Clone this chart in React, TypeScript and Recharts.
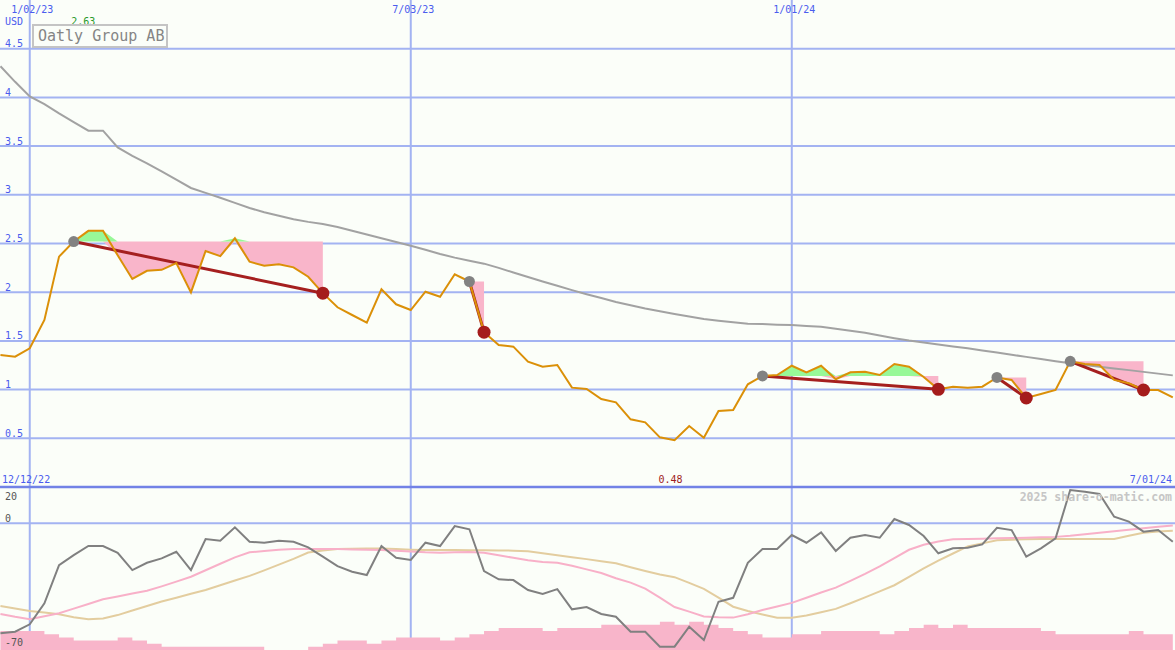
import React from 'react';
import {
  ComposedChart,
  Line,
  Area,
  XAxis,
  YAxis,
  CartesianGrid,
  ReferenceLine,
  ReferenceDot,
} from 'recharts';

// week index, 0 = 1/02/23
const weeks = [
  -2, -1, 0, 1, 2, 3, 4, 5, 6, 7, 8, 9, 10, 11, 12, 13, 14, 15, 16, 17,
  18, 19, 20, 21, 22, 23, 24, 25, 26, 27, 28, 29, 30, 31, 32, 33, 34, 35, 36, 37,
  38, 39, 40, 41, 42, 43, 44, 45, 46, 47, 48, 49, 50, 51, 52, 53, 54, 55, 56, 57,
  58, 59, 60, 61, 62, 63, 64, 65, 66, 67, 68, 69, 70, 71, 72, 73, 74, 75, 76, 77,
  78,
];

// weekly close, USD
const price = [
  1.355, 1.338, 1.424, 1.715, 2.365, 2.52, 2.63, 2.63, 2.38, 2.136,
  2.22, 2.23, 2.3, 1.998, 2.423, 2.37, 2.554, 2.313, 2.272, 2.286,
  2.255, 2.159, 1.99, 1.845, 1.766, 1.687, 2.03, 1.876, 1.817, 2.005,
  1.954, 2.184, 2.11, 1.59, 1.458, 1.441, 1.287, 1.235, 1.253, 1.02,
  1.006, 0.903, 0.869, 0.695, 0.664, 0.51, 0.48, 0.626, 0.506, 0.78,
  0.79, 1.054, 1.14, 1.15, 1.245, 1.177, 1.245, 1.106, 1.177, 1.184,
  1.15, 1.263, 1.235, 1.13, 1.003, 1.03, 1.02, 1.03, 1.125, 1.099,
  0.914, 0.955, 0.996, 1.29, 1.263, 1.253, 1.099, 1.065, 0.996, 0.996,
  0.921,
];

// long moving average
const movingAvg = [
  4.32, 4.16, 4.01, 3.93, 3.836, 3.747, 3.658, 3.658, 3.486, 3.4,
  3.323, 3.24, 3.155, 3.07, 3.02, 2.969, 2.917, 2.864, 2.821, 2.785,
  2.75, 2.722, 2.7, 2.67, 2.631, 2.592, 2.553, 2.515, 2.477, 2.436,
  2.393, 2.355, 2.323, 2.293, 2.25, 2.202, 2.156, 2.11, 2.066, 2.021,
  1.979, 1.94, 1.9, 1.867, 1.833, 1.804, 1.777, 1.751, 1.725, 1.707,
  1.692, 1.676, 1.673, 1.667, 1.663, 1.654, 1.646, 1.625, 1.605, 1.583,
  1.555, 1.528, 1.504, 1.484, 1.464, 1.443, 1.424, 1.402, 1.38, 1.358,
  1.336, 1.314, 1.292, 1.27, 1.253, 1.235, 1.217, 1.2, 1.182, 1.164,
  1.146,
];

// lower panel oscillator
const osc = [
  -99.9, -98.4, -91.7, -72.6, -37.9, -28.8, -20.6, -20.6, -26.7, -42.4,
  -35.8, -31.8, -25.8, -42.4, -14.3, -15.8, -3.6, -16.7, -17.6, -15.8,
  -16.7, -21.8, -30.3, -38.8, -43.9, -46.9, -20.6, -31.2, -33.3, -17.6,
  -20.6, -2.5, -5.4, -43.3, -50.8, -51.5, -60.6, -64.2, -59.7, -78.1,
  -76.0, -82.3, -84.8, -98.4, -98.4, -112, -112, -93.9, -106, -71.2,
  -67.6, -35.8, -23.3, -23.3, -10.6, -17.6, -8.2, -25.1, -13.1, -10.6,
  -13.1, 3.9, -1.5, -11.5, -27.2, -22.7, -22.2, -19.1, -4.0, -6.1,
  -30.3, -22.7, -13.6, 30.2, 28.7, 26.6, 6.0, 1.5, -7.6, -6.1,
  -16.7,
];

const oscFast = [
  -82.4, -84.9, -87.0, -84.3, -81.7, -77.4, -73.3, -69.0, -66.4, -63.8,
  -61.2, -57.2, -52.9, -48.5, -42.6, -36.7, -30.9, -26.3, -25.1, -24.0,
  -23.3, -23.3, -23.3, -23.4, -23.7, -24.0, -24.3, -24.9, -25.5, -26.2,
  -26.6, -26.3, -26.1, -26.7, -29.0, -31.3, -33.6, -35.1, -35.7, -38.5,
  -41.8, -45.1, -49.9, -53.8, -59.3, -67.4, -76.0, -80.2, -84.5, -85.3,
  -85.6, -82.6, -78.7, -75.5, -72.2, -67.6, -62.8, -58.4, -52.3, -45.9,
  -39.1, -31.5, -24.0, -19.4, -16.5, -14.4, -14.2, -13.9, -13.6, -13.3,
  -13.1, -12.7, -12.3, -11.3, -9.9, -8.6, -7.3, -5.9, -4.5, -3.2,
  -2.0,
];

const oscSlow = [
  -75.1, -77.4, -79.6, -80.9, -82.5, -85.2, -87.1, -86.3, -83.3, -79.2,
  -75.1, -71.0, -67.6, -64.0, -60.5, -56.2, -51.9, -47.7, -42.7, -37.5,
  -32.3, -26.5, -24.6, -23.3, -23.1, -22.8, -22.9, -23.4, -23.9, -24.2,
  -24.2, -24.2, -24.4, -24.5, -24.7, -24.8, -25.3, -27.1, -29.0, -30.8,
  -32.5, -34.4, -36.3, -39.8, -43.2, -46.5, -48.9, -54.0, -59.5, -67.4,
  -75.7, -79.6, -82.7, -85.7, -85.7, -83.7, -80.7, -77.7, -72.6, -67.2,
  -61.8, -56.2, -48.6, -41.0, -33.8, -27.4, -21.0, -18.2, -15.3, -14.8,
  -14.4, -14.3, -14.3, -14.3, -14.3, -14.3, -14.3, -11.3, -8.5, -7.4,
  -6.8,
];

// volume-like histogram (levels)
const hist = [
  6, 6, 6, 5, 4, 3, 3, 3, 4, 3,
  2, 1, 1, 1, 1, 1, 1, 1, 0, 0,
  0, 1, 2, 3, 3, 2, 3, 4, 4, 4,
  3, 4, 5, 6, 7, 7, 7, 6, 7, 7,
  7, 8, 8, 8, 8, 9, 8, 9, 8, 7,
  6, 5, 4, 4, 5, 5, 6, 6, 6, 6,
  5, 6, 7, 8, 7, 8, 7, 7, 7, 7,
  7, 6, 5, 5, 5, 5, 5, 6, 5, 5,
  5,
];

// buy/sell signal windows (week of start, week of end)
const signals = [
  { start: 3, end: 20 },
  { start: 30, end: 31 },
  { start: 50, end: 62 },
  { start: 66, end: 68 },
  { start: 71, end: 76 },
];

const dateTicks = [0, 26, 52];
const dateLabels = ['1/02/23', '7/03/23', '1/01/24'];
const priceTicks = [0.5, 1, 1.5, 2, 2.5, 3, 3.5, 4, 4.5];
const oscTicks = [20, 0];

const BG = '#fbfef9';
const GRID = '#a3b3f2';
const BLUE = '#4a5cee';
const MONO = '"DejaVu Sans Mono", monospace';

const rows = weeks.map((k, i) => {
  const p = price[i];
  const row: any = {
    k,
    price: p,
    ma: movingAvg[i],
    osc: osc[i],
    oscFast: oscFast[i],
    oscSlow: oscSlow[i],
    hist: hist[i],
    startDot: null,
    endDot: null,
  };
  signals.forEach((s, j) => {
    if (k >= s.start && k <= s.end) {
      const level = price[weeks.indexOf(s.start)];
      row.pink = [Math.min(p, level), level];
      row.green = [level, Math.max(p, level)];
    }
    row['t' + j] = k === s.start || k === s.end ? p : null;
    if (k === s.start) row.startDot = p;
    if (k === s.end) row.endDot = p;
  });
  return row;
});

const maxIdx = price.indexOf(Math.max(...price));
const minIdx = price.indexOf(Math.min(...price));

const DateTick = ({ x, payload }: any) => (
  <text x={x + 2.5} y={13} textAnchor="middle" fill={BLUE} fontSize={10} fontFamily={MONO}>
    {dateLabels[dateTicks.indexOf(payload.value)]}
  </text>
);

const PriceTick = ({ y, payload }: any) => (
  <text x={5} y={y - 1.5} fill={BLUE} fontSize={10} fontFamily={MONO}>
    {payload.value}
  </text>
);

const OscTick = ({ y, payload }: any) => (
  <text x={5} y={y - 1.5} fill="#555" fontSize={10} fontFamily={MONO}>
    {payload.value}
  </text>
);

export default function App() {
  return (
    <div style={{ position: 'absolute', left: 0, top: 0, width: 1175, height: 650, background: BG, overflow: 'hidden' }}>
      <ComposedChart width={1175} height={650} data={rows} margin={{ top: -1, right: 0, bottom: 0, left: -2 }}>
        <CartesianGrid yAxisId="p" stroke={GRID} strokeWidth={2} syncWithTicks />
        <XAxis
          dataKey="k"
          type="number"
          domain={[-2.03, 78.15]}
          allowDataOverflow
          ticks={dateTicks}
          interval={0}
          orientation="top"
          height={1}
          axisLine={false}
          tickLine={false}
          tick={DateTick}
        />
        <YAxis
          yAxisId="p"
          type="number"
          domain={[-1.6735, 5]}
          allowDataOverflow
          ticks={priceTicks}
          interval={0}
          width={1}
          axisLine={false}
          tickLine={false}
          tick={PriceTick}
        />
        <YAxis
          yAxisId="v"
          type="number"
          domain={[-115, 475.1]}
          allowDataOverflow
          ticks={oscTicks}
          interval={0}
          width={1}
          axisLine={false}
          tickLine={false}
          tick={OscTick}
        />
        <YAxis yAxisId="h" type="number" domain={[0, 206.35]} allowDataOverflow hide />

        <ReferenceLine yAxisId="v" y={0} stroke={GRID} strokeWidth={2} />
        <ReferenceLine yAxisId="p" y={0} stroke="#7282e6" strokeWidth={2.5} />

        <Area yAxisId="h" type="stepAfter" dataKey="hist" fill="#f8b5ca" fillOpacity={1} stroke="none" activeDot={false} isAnimationActive={false} />
        <Area yAxisId="p" type="linear" dataKey="pink" fill="#f9b5ca" fillOpacity={1} stroke="none" activeDot={false} isAnimationActive={false} />
        <Area yAxisId="p" type="linear" dataKey="green" fill="#98f898" fillOpacity={1} stroke="none" activeDot={false} isAnimationActive={false} />

        <Line yAxisId="p" type="linear" dataKey="ma" stroke="#a2a2a2" strokeWidth={2} dot={false} activeDot={false} isAnimationActive={false} />

        <Line yAxisId="v" type="linear" dataKey="oscSlow" stroke="#e3cd9f" strokeWidth={2} dot={false} activeDot={false} isAnimationActive={false} />
        <Line yAxisId="v" type="linear" dataKey="oscFast" stroke="#f8b0c8" strokeWidth={2} dot={false} activeDot={false} isAnimationActive={false} />
        <Line yAxisId="v" type="linear" dataKey="osc" stroke="#808080" strokeWidth={2} dot={false} activeDot={false} isAnimationActive={false} />

        {signals.map((s, j) => (
          <Line
            key={'t' + j}
            yAxisId="p"
            type="linear"
            dataKey={'t' + j}
            stroke="#a51f1f"
            strokeWidth={3}
            dot={false}
            activeDot={false}
            connectNulls
            isAnimationActive={false}
          />
        ))}
        <Line yAxisId="p" dataKey="startDot" stroke="none" dot={{ r: 5.5, fill: '#828282', stroke: 'none' }} activeDot={false} isAnimationActive={false} />
        <Line yAxisId="p" dataKey="endDot" stroke="none" dot={{ r: 6.5, fill: '#a51c1c', stroke: 'none' }} activeDot={false} isAnimationActive={false} />

        <Line yAxisId="p" type="linear" dataKey="price" stroke="#db9008" strokeWidth={2} dot={false} activeDot={false} isAnimationActive={false} />

        <ReferenceDot
          yAxisId="p"
          x={weeks[maxIdx]}
          y={4.743}
          r={0}
          shape={(props: any) => (
            <text x={props.cx - 5} y={props.cy} textAnchor="middle" fill="#2a9a2a" fontSize={10} fontFamily={MONO}>
              {price[maxIdx].toFixed(2)}
            </text>
          )}
        />
        <ReferenceDot
          yAxisId="p"
          x={weeks[minIdx]}
          y={0.041}
          r={0}
          shape={(props: any) => (
            <text x={props.cx - 4} y={props.cy} textAnchor="middle" fill="#a01c1c" fontSize={10} fontFamily={MONO}>
              {price[minIdx].toFixed(2)}
            </text>
          )}
        />
      </ComposedChart>

      <svg width={1175} height={650} style={{ position: 'absolute', left: 0, top: 0, pointerEvents: 'none' }}>
        <text x={5} y={25} fill={BLUE} fontSize={10} fontFamily={MONO}>USD</text>
        <rect x={33} y={25} width={134} height={22} fill={BG} stroke="#c4c4c4" strokeWidth={2} />
        <text x={38} y={41} fill="#858585" fontSize={15} fontFamily={MONO}>Oatly Group AB</text>
        <text x={2} y={483} fill={BLUE} fontSize={10} fontFamily={MONO}>12/12/22</text>
        <text x={1172} y={483} fill={BLUE} fontSize={10} fontFamily={MONO} textAnchor="end">7/01/24</text>
        <text x={1172} y={501} fill="#c6c6c6" fontSize={11.5} fontWeight="bold" fontFamily={MONO} textAnchor="end">
          2025 share-o-matic.com
        </text>
        <text x={5} y={646} fill="#555" fontSize={10} fontFamily={MONO}>-70</text>
      </svg>
    </div>
  );
}
